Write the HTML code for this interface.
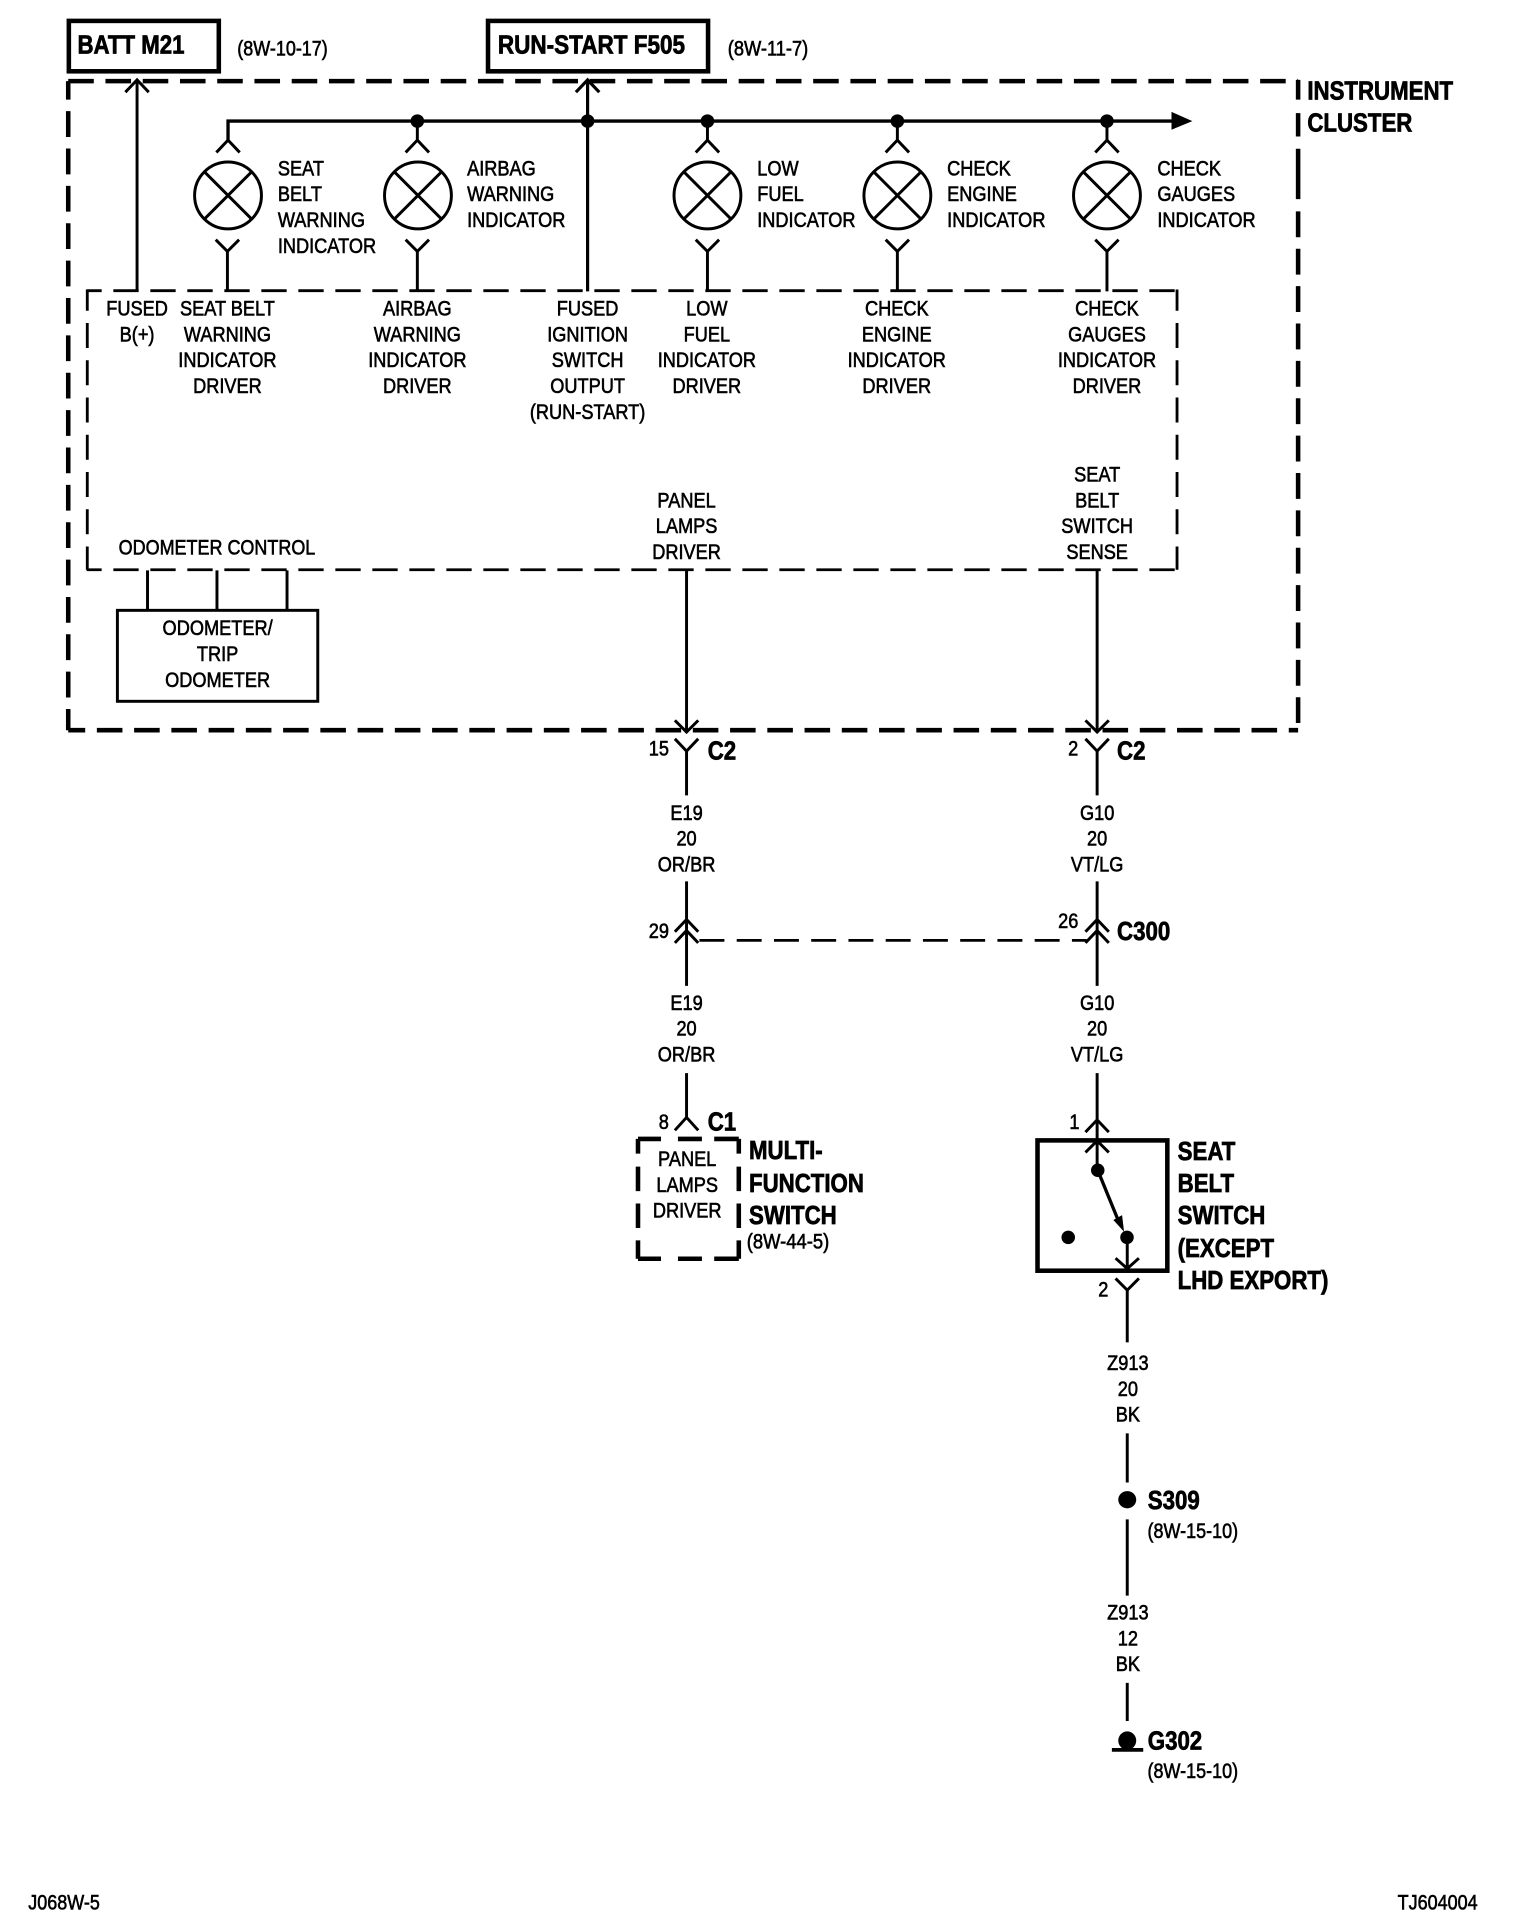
<!DOCTYPE html>
<html><head><meta charset="utf-8"><title>Instrument Cluster Wiring Diagram</title>
<style>
html,body{margin:0;padding:0;background:#fff}
svg{display:block}
text{font-family:"Liberation Sans",sans-serif;fill:#000;stroke:#000}
.r{font-size:17.4px;stroke-width:.5}
.b{font-size:21.3px;font-weight:bold;stroke-width:.6}
.m{text-anchor:middle}
.w{fill:none;stroke:#000;stroke-width:2.4}
.h{fill:none;stroke:#000;stroke-width:3.7}
.d{fill:none;stroke:#000;stroke-width:2.3}
</style></head><body>
<svg xmlns="http://www.w3.org/2000/svg" width="1520" height="1928" viewBox="0 0 1236.5 1568.4">
<rect width="1240" height="1573" fill="#fff" stroke="none"/>
<defs>
<g id="lamp" fill="none" stroke="#000" stroke-width="2.4">
<circle cx="0" cy="0" r="27.2"/><path d="M-19-19L19 19M19-19L-19 19"/>
</g>
</defs>

<!-- outer dashed cluster -->
<path class="h" d="M55.5 66H1056" stroke-dasharray="20.8 9.5"/>
<path class="h" d="M55.5 66V594" stroke-dasharray="21 9.4" stroke-dashoffset="6"/>
<path class="h" d="M55.5 594H1056" stroke-dasharray="20.8 9.5" stroke-dashoffset="7"/>
<path class="h" d="M1056 65V81M1056 92V111M1056 121V162"/>
<path class="h" d="M1056 172V594" stroke-dasharray="21 9.4"/>

<!-- inner dashed -->
<path class="d" d="M70.5 236.5H958" stroke-dasharray="20.6 9.5" stroke-dashoffset="8.4"/>
<path class="d" d="M70.5 463.5H958" stroke-dasharray="20.6 9.5" stroke-dashoffset="8.4"/>
<path class="d" d="M71 235.5V463.5" stroke-dasharray="20.3 10" stroke-dashoffset="3"/>
<path class="d" d="M957.5 235.5V463.5" stroke-dasharray="20.3 10" stroke-dashoffset="3"/>

<!-- header boxes -->
<rect x="56" y="17" width="122" height="41" class="h"/>
<rect x="397" y="17" width="179" height="41" class="h"/>
<text class="b" transform="matrix(.85 0 0 1 63 43.5)">BATT M21</text>
<text class="r" transform="matrix(.84 0 0 1 193 45)">(8W-10-17)</text>
<text class="b" transform="matrix(.86 0 0 1 405 43.5)">RUN-START F505</text>
<text class="r" transform="matrix(.855 0 0 1 592 45)">(8W-11-7)</text>
<text class="b" transform="matrix(.85 0 0 1 1063.5 81)"><tspan x="0" y="0">INSTRUMENT</tspan><tspan x="0" y="26">CLUSTER</tspan></text>

<!-- bus -->
<path d="M185.5 114V98.5H955" fill="none" stroke="#000" stroke-width="2.7"/>
<path d="M953 91L970 98.5L953 105.5Z" fill="#000"/>
<circle cx="339.5" cy="98.5" r="5.5" fill="#000"/><circle cx="478" cy="98.5" r="5.5" fill="#000"/>
<circle cx="575.5" cy="98.5" r="5.5" fill="#000"/><circle cx="730" cy="98.5" r="5.5" fill="#000"/>
<circle cx="900.5" cy="98.5" r="5.5" fill="#000"/>

<!-- fused wires -->
<path class="w" d="M111.5 237V66M102 75L111.5 65L121 75"/>
<path class="w" d="M478 237V66M468.5 75L478 65L487.5 75" style="stroke-width:2.6"/>

<!-- lamps & connectors -->
<g class="w">
<path d="M176 124L185.5 114L195 124M175.5 195L185 204.5L194.5 195M185 204.5V237"/>
<path d="M339.5 98V114M330 124L339.5 114L349 124M330 195L339.5 204.5L349 195M339.5 204.5V237"/>
<path d="M575.5 98V114M566 124L575.5 114L585 124M566 195L575.5 204.5L585 195M575.5 204.5V237"/>
<path d="M730 98V114M720.5 124L730 114L739.5 124M720.5 195L730 204.5L739.5 195M730 204.5V237"/>
<path d="M900.5 98V114M891 124L900.5 114L910 124M891 195L900.5 204.5L910 195M900.5 204.5V237"/>
</g>
<use href="#lamp" x="185.5" y="159"/><use href="#lamp" x="340" y="159"/><use href="#lamp" x="575.5" y="159"/><use href="#lamp" x="730" y="159"/><use href="#lamp" x="900.5" y="159"/>

<text class="r" transform="matrix(.85 0 0 1 226 142.7)"><tspan x="0" y="0">SEAT</tspan><tspan x="0" y="21">BELT</tspan><tspan x="0" y="42">WARNING</tspan><tspan x="0" y="63">INDICATOR</tspan></text>
<text class="r" transform="matrix(.85 0 0 1 380 142.7)"><tspan x="0" y="0">AIRBAG</tspan><tspan x="0" y="21">WARNING</tspan><tspan x="0" y="42">INDICATOR</tspan></text>
<text class="r" transform="matrix(.85 0 0 1 616 142.7)"><tspan x="0" y="0">LOW</tspan><tspan x="0" y="21">FUEL</tspan><tspan x="0" y="42">INDICATOR</tspan></text>
<text class="r" transform="matrix(.85 0 0 1 770.5 142.7)"><tspan x="0" y="0">CHECK</tspan><tspan x="0" y="21">ENGINE</tspan><tspan x="0" y="42">INDICATOR</tspan></text>
<text class="r" transform="matrix(.85 0 0 1 941.5 142.7)"><tspan x="0" y="0">CHECK</tspan><tspan x="0" y="21">GAUGES</tspan><tspan x="0" y="42">INDICATOR</tspan></text>

<!-- driver labels -->
<text class="r m" transform="matrix(.85 0 0 1 111.5 256.7)"><tspan x="0" y="0">FUSED</tspan><tspan x="0" y="21">B(+)</tspan></text>
<text class="r m" transform="matrix(.85 0 0 1 185 256.7)"><tspan x="0" y="0">SEAT BELT</tspan><tspan x="0" y="21">WARNING</tspan><tspan x="0" y="42">INDICATOR</tspan><tspan x="0" y="63">DRIVER</tspan></text>
<text class="r m" transform="matrix(.85 0 0 1 339.5 256.7)"><tspan x="0" y="0">AIRBAG</tspan><tspan x="0" y="21">WARNING</tspan><tspan x="0" y="42">INDICATOR</tspan><tspan x="0" y="63">DRIVER</tspan></text>
<text class="r m" transform="matrix(.85 0 0 1 478 256.7)"><tspan x="0" y="0">FUSED</tspan><tspan x="0" y="21">IGNITION</tspan><tspan x="0" y="42">SWITCH</tspan><tspan x="0" y="63">OUTPUT</tspan><tspan x="0" y="84">(RUN-START)</tspan></text>
<text class="r m" transform="matrix(.85 0 0 1 575 256.7)"><tspan x="0" y="0">LOW</tspan><tspan x="0" y="21">FUEL</tspan><tspan x="0" y="42">INDICATOR</tspan><tspan x="0" y="63">DRIVER</tspan></text>
<text class="r m" transform="matrix(.85 0 0 1 729.5 256.7)"><tspan x="0" y="0">CHECK</tspan><tspan x="0" y="21">ENGINE</tspan><tspan x="0" y="42">INDICATOR</tspan><tspan x="0" y="63">DRIVER</tspan></text>
<text class="r m" transform="matrix(.85 0 0 1 900.5 256.7)"><tspan x="0" y="0">CHECK</tspan><tspan x="0" y="21">GAUGES</tspan><tspan x="0" y="42">INDICATOR</tspan><tspan x="0" y="63">DRIVER</tspan></text>
<text class="r m" transform="matrix(.85 0 0 1 558.5 412.7)"><tspan x="0" y="0">PANEL</tspan><tspan x="0" y="21">LAMPS</tspan><tspan x="0" y="42">DRIVER</tspan></text>
<text class="r m" transform="matrix(.85 0 0 1 892.5 391.7)"><tspan x="0" y="0">SEAT</tspan><tspan x="0" y="21">BELT</tspan><tspan x="0" y="42">SWITCH</tspan><tspan x="0" y="63">SENSE</tspan></text>
<text class="r m" transform="matrix(.84 0 0 1 176.5 451.2)">ODOMETER CONTROL</text>

<!-- odometer -->
<path class="w" d="M120 464V496M176.5 464V496M233.5 464V496"/>
<rect x="95.5" y="496.5" width="163" height="74" class="w"/>
<text class="r m" transform="matrix(.85 0 0 1 177 516.7)"><tspan x="0" y="0">ODOMETER/</tspan><tspan x="0" y="21">TRIP</tspan><tspan x="0" y="42">ODOMETER</tspan></text>

<!-- left harness -->
<g class="w">
<path d="M558.5 464V595M549 586L558.5 595.5L568 586"/>
<path d="M549 601L558.5 611L568 601M558.5 611V647"/>
<path d="M558.5 717V802M549 758L558.5 748L568 758M549 767L558.5 757L568 767"/>
<path d="M558.5 873V909M549 919.5L558.5 909L568 919.5"/>
</g>
<text class="r m" transform="matrix(.85 0 0 1 536 614.5)">15</text>
<text class="b" transform="matrix(.85 0 0 1 575.7 618)">C2</text>
<text class="r m" transform="matrix(.85 0 0 1 558.5 667)"><tspan x="0" y="0">E19</tspan><tspan x="0" y="21">20</tspan><tspan x="0" y="42">OR/BR</tspan></text>
<text class="r m" transform="matrix(.85 0 0 1 536 763)">29</text>
<text class="r m" transform="matrix(.85 0 0 1 558.5 821.5)"><tspan x="0" y="0">E19</tspan><tspan x="0" y="21">20</tspan><tspan x="0" y="42">OR/BR</tspan></text>
<text class="r m" transform="matrix(.85 0 0 1 540 918.5)">8</text>
<text class="b" transform="matrix(.85 0 0 1 575.7 919.5)">C1</text>

<!-- dashed link -->
<path class="d" d="M567 765H884" stroke-dasharray="20.3 10" stroke-dashoffset="-2"/>

<!-- multifunction dashed box -->
<path class="h" d="M519 926.5H537.7M551.5 926.5H571M581 926.5H601M519 1024H537.7M551.5 1024H571M581 1024H601M519 926.5V938.5M519 949V969M519 979V999M519 1009V1024M601 926.5V938.5M601 949V969M601 979V999M601 1009V1024"/>
<text class="r m" transform="matrix(.85 0 0 1 559 948.5)"><tspan x="0" y="0">PANEL</tspan><tspan x="0" y="21">LAMPS</tspan><tspan x="0" y="42">DRIVER</tspan></text>
<text class="b" transform="matrix(.85 0 0 1 609.3 942.7)"><tspan x="0" y="0">MULTI-</tspan><tspan x="0" y="27">FUNCTION</tspan><tspan x="0" y="53">SWITCH</tspan></text>
<text class="r" transform="matrix(.86 0 0 1 607.5 1015.5)">(8W-44-5)</text>

<!-- right harness -->
<g class="w">
<path d="M892.5 464V595M883 586L892.5 595.5L902 586"/>
<path d="M883 601L892.5 611L902 601M892.5 611V647"/>
<path d="M892.5 717V802M883 758L892.5 748L902 758M883 767L892.5 757L902 767"/>
<path d="M892.5 873V952M883 921L892.5 911L902 921M883 937.5L892.5 928L902 937.5"/>
<path d="M893 952L911 996" style="stroke-width:2.7"/>
<path d="M917 1007V1032M907.5 1023.5L917 1032L926.5 1023.5"/>
<path d="M907.5 1040L917 1049.5L926.5 1040M917 1049.5V1092"/>
<path d="M917 1166V1206M917 1236V1298M917 1369V1400"/>
</g>
<rect x="844" y="927.7" width="105.6" height="106" class="h"/>
<circle cx="893" cy="952" r="5.5" fill="#000"/>
<circle cx="869" cy="1006.6" r="5.5" fill="#000"/>
<circle cx="916.8" cy="1006.6" r="5.5" fill="#000"/>
<path d="M914.4 1002L905.7 992.5L912.8 988.5Z" fill="#000"/>
<text class="r m" transform="matrix(.85 0 0 1 873 614.5)">2</text>
<text class="b" transform="matrix(.85 0 0 1 908.7 618)">C2</text>
<text class="r m" transform="matrix(.85 0 0 1 892.5 667)"><tspan x="0" y="0">G10</tspan><tspan x="0" y="21">20</tspan><tspan x="0" y="42">VT/LG</tspan></text>
<text class="r m" transform="matrix(.85 0 0 1 869 755)">26</text>
<text class="b" transform="matrix(.85 0 0 1 908.7 764.5)">C300</text>
<text class="r m" transform="matrix(.85 0 0 1 892.5 821.5)"><tspan x="0" y="0">G10</tspan><tspan x="0" y="21">20</tspan><tspan x="0" y="42">VT/LG</tspan></text>
<text class="r m" transform="matrix(.85 0 0 1 874 918.5)">1</text>
<text class="b" transform="matrix(.85 0 0 1 958 943.7)"><tspan x="0" y="0">SEAT</tspan><tspan x="0" y="26">BELT</tspan><tspan x="0" y="52">SWITCH</tspan><tspan x="0" y="79">(EXCEPT</tspan><tspan x="0" y="105">LHD EXPORT)</tspan></text>
<text class="r m" transform="matrix(.85 0 0 1 897.5 1054.5)">2</text>
<text class="r m" transform="matrix(.85 0 0 1 917.5 1114.5)"><tspan x="0" y="0">Z913</tspan><tspan x="0" y="21">20</tspan><tspan x="0" y="42">BK</tspan></text>
<ellipse cx="917" cy="1220" rx="7.3" ry="7" fill="#000"/>
<text class="b" transform="matrix(.85 0 0 1 933.7 1227.5)">S309</text>
<text class="r" transform="matrix(.84 0 0 1 933.5 1251)">(8W-15-10)</text>
<text class="r m" transform="matrix(.85 0 0 1 917.5 1317.5)"><tspan x="0" y="0">Z913</tspan><tspan x="0" y="21">12</tspan><tspan x="0" y="42">BK</tspan></text>
<ellipse cx="917" cy="1416" rx="7.3" ry="7.5" fill="#000"/>
<path d="M904.5 1423.5H930" stroke="#000" stroke-width="3"/>
<text class="b" transform="matrix(.85 0 0 1 933.7 1423)">G302</text>
<text class="r" transform="matrix(.84 0 0 1 933.5 1446.5)">(8W-15-10)</text>

<text class="r" transform="matrix(.84 0 0 1 23 1553.5)">J068W-5</text>
<text class="r" transform="matrix(.84 0 0 1 1137 1553.5)">TJ604004</text>
</svg>
</body></html>
